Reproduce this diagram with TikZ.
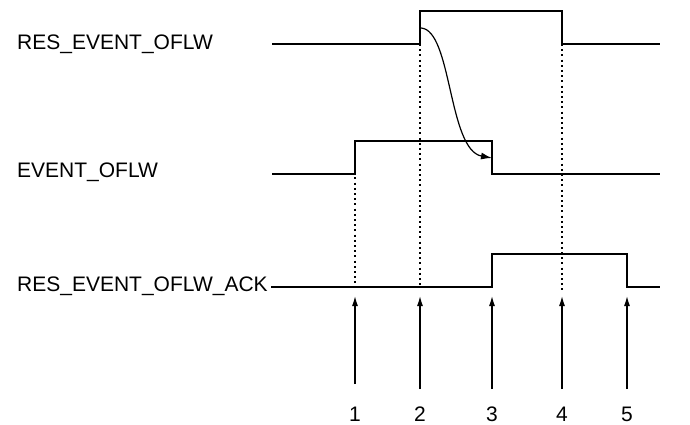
\documentclass[tikz,border=0pt]{standalone}
\usepackage{fontspec}
\setmainfont{Liberation Sans}
\usetikzlibrary{arrows.meta}
\begin{document}
\begin{tikzpicture}[x=1pt,y=-1pt,
  signal/.style={line width=1.4pt,line join=miter},
  guide/.style={line width=1.2pt,dash pattern=on 2pt off 3.2pt},
  marker/.style={line width=1.3pt,-{Latex[length=10pt,width=6pt]}},
  signame/.style={anchor=base west,inner sep=0pt,font=\fontsize{21}{25}\selectfont},
  tick/.style={anchor=base,inner sep=0pt,font=\fontsize{21}{25}\selectfont}]
\useasboundingbox (0,0) rectangle (690,425);

% signal names
\node[signame] (resname) at (17,50) {RES\_EVENT\_OFLW};
\node[signame] (evname)  at (17,177) {EVENT\_OFLW};
\node[signame] (ackname) at (17,291) {RES\_EVENT\_OFLW\_ACK};

% key instants on the time axis
\coordinate (r0) at (272,44);
\coordinate (r1) at (420,44);
\coordinate (r2) at (562,44);
\coordinate (e0) at (272,174);
\coordinate (e1) at (355,174);
\coordinate (e2) at (492,174);
\coordinate (a0) at (271,287);
\coordinate (a1) at (492,287);
\coordinate (a2) at (627,287);

% waveforms
\draw[signal] (r0) -- (r1) -- (420,11) -- (562,11) -- (r2) -- (660,44);
\draw[signal] (e0) -- (e1) -- (355,141) -- (492,141) -- (e2) -- (660,174);
\draw[signal] (a0) -- (a1) -- (492,254) -- (627,254) -- (a2) -- (660,287);

% dotted guides
\coordinate (g1) at (355,287);
\coordinate (g2) at (420,287);
\coordinate (g4) at (562,292);
\draw[guide] (355,141) -- (g1);
\draw[guide] (r1) -- (g2);
\draw[guide] (r2) -- (g4);

% cause and effect
\coordinate (cstart) at (421,28);
\coordinate (cend) at (492,158);
\draw[line width=1.2pt,-{Latex[length=11pt,width=7pt]}] (cstart) .. controls (452,30) and (448,150) .. (cend);

% numbered instants
\foreach \n/\xx/\yy in {1/355/384, 2/420/389, 3/492/389, 4/562/389, 5/627/389}{
  \coordinate (t\n) at (\xx,\yy);
  \coordinate (h\n) at (\xx,296);
  \node[tick] (n\n) at (\xx,421) {\n};
  \draw[marker] (t\n) -- (h\n);
}
\end{tikzpicture}
\end{document}
